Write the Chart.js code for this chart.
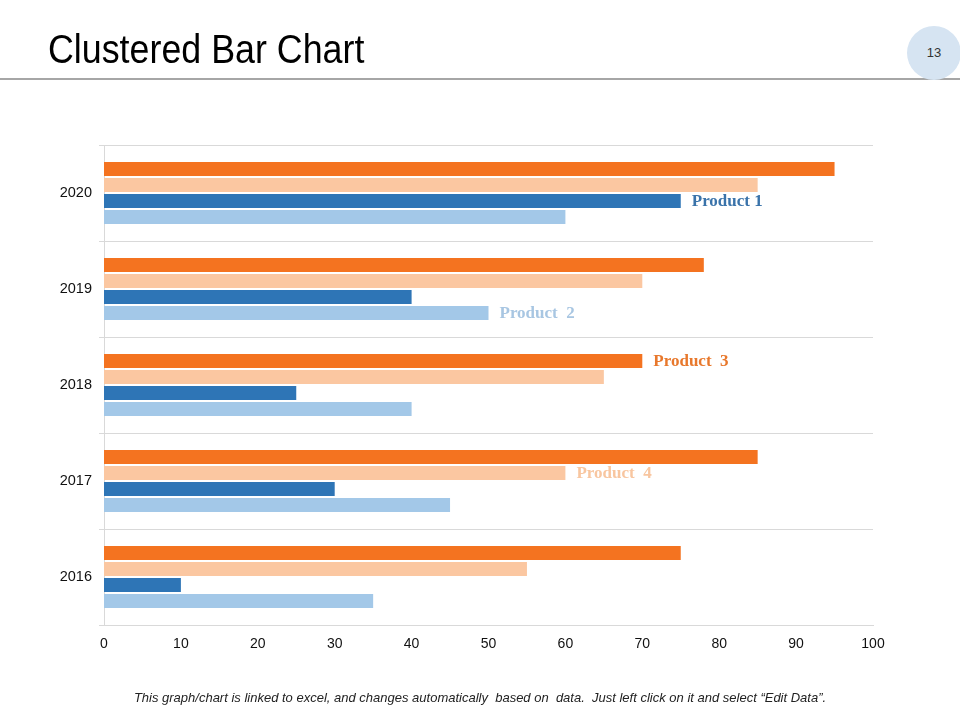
<!DOCTYPE html>
<html>
<head>
<meta charset="utf-8">
<script src="https://cdn.jsdelivr.net/npm/chart.js@4/dist/chart.umd.min.js"></script>
<style>
  html, body { margin: 0; padding: 0; background: #fff; }
  body { width: 960px; height: 720px; position: relative; overflow: hidden; font-family: "Liberation Sans", Arial, sans-serif; }
  #title { position: absolute; left: 48px; top: 27px; font-family: "Liberation Sans", sans-serif; font-size: 40px; color: #000; white-space: nowrap; transform: scaleX(0.895); transform-origin: 0 0; }
  #rule { position: absolute; left: 0; top: 78px; width: 960px; height: 2px; background: #a6a6a6; }
  #pg { position: absolute; left: 907px; top: 26px; width: 54px; height: 54px; border-radius: 50%; background: #d6e4f2; color: #333; font-size: 13px; line-height: 54px; text-align: center; }
  #note { position: absolute; left: 0; width: 960px; top: 690px; text-align: center; font-style: italic; font-size: 13px; color: #222; font-family: "Liberation Sans", sans-serif; }
  #wrap { position: absolute; left: 0; top: 0; width: 960px; height: 720px; }
</style>
</head>
<body>
<div id="wrap"><canvas id="c"></canvas></div>
<div id="title">Clustered Bar Chart</div>
<div id="rule"></div>
<div id="pg">13</div>
<div id="note">This graph/chart is linked to excel, and changes automatically&nbsp; based on&nbsp; data.&nbsp; Just left click on it and select “Edit Data”.</div>
<script>
// Categories (top to bottom)
const years = ['2020', '2019', '2018', '2017', '2016'];
// Series values, same order as years
const product3 = [95, 78, 70, 85, 75];   // dark orange
const product4 = [85, 70, 65, 60, 55];   // light orange
const product1 = [75, 40, 25, 30, 10];   // dark blue
const product2 = [60, 50, 40, 45, 35];   // light blue
// x-axis ticks
const xMin = 0, xMax = 100, xStep = 10;
// In-chart series labels: [datasetIndex, categoryIndex, text]
const seriesNotes = [
  [2, 0, 'Product 1'],
  [3, 1, 'Product  2'],
  [0, 2, 'Product  3'],
  [1, 3, 'Product  4']
];

const colors = ['#f47320', '#fbc7a1', '#2e75b6', '#a3c8e8'];
const noteColors = ['#e8782c', '#f8c6a0', '#3a73aa', '#a8c6e2'];

const notePlugin = {
  id: 'notes',
  afterDatasetsDraw(chart) {
    const ctx = chart.ctx;
    ctx.save();
    ctx.font = 'bold 17px "Liberation Serif", serif';
    ctx.textBaseline = 'middle';
    ctx.textAlign = 'left';
    seriesNotes.forEach(([ds, idx, txt]) => {
      const el = chart.getDatasetMeta(ds).data[idx];
      ctx.fillStyle = noteColors[ds];
      ctx.fillText(txt, el.x + 11, el.y + 1);
    });
    ctx.restore();
  }
};

new Chart(document.getElementById('c'), {
  type: 'bar',
  data: {
    labels: years,
    datasets: [
      { label: 'Product 3', data: product3, backgroundColor: colors[0] },
      { label: 'Product 4', data: product4, backgroundColor: colors[1] },
      { label: 'Product 1', data: product1, backgroundColor: colors[2] },
      { label: 'Product 2', data: product2, backgroundColor: colors[3] }
    ]
  },
  options: {
    indexAxis: 'y',
    responsive: true,
    maintainAspectRatio: false,
    animation: false,
    datasets: { bar: { categoryPercentage: 0.667, barPercentage: 0.875 } },
    layout: { padding: { top: 145, bottom: 55, left: 0, right: 87 } },
    plugins: { legend: { display: false }, tooltip: { enabled: false } },
    scales: {
      x: {
        min: xMin, max: xMax,
        ticks: { stepSize: xStep, color: '#111', font: { size: 14, family: '"Liberation Sans", Arial, sans-serif' }, padding: 3 },
        grid: { display: false },
        border: { display: true, color: '#d9d9d9', width: 1 },
        afterFit(s) { s.height = 40; }
      },
      y: {
        ticks: { color: '#111', font: { size: 14.5, family: '"Liberation Sans", Arial, sans-serif' }, padding: 7 },
        grid: { display: true, color: '#d9d9d9', lineWidth: 1, tickLength: 5, offset: true },
        border: { display: true, color: '#d9d9d9', width: 1 },
        afterFit(s) { s.width = 104; }
      }
    }
  },
  plugins: [notePlugin]
});
</script>
</body>
</html>
